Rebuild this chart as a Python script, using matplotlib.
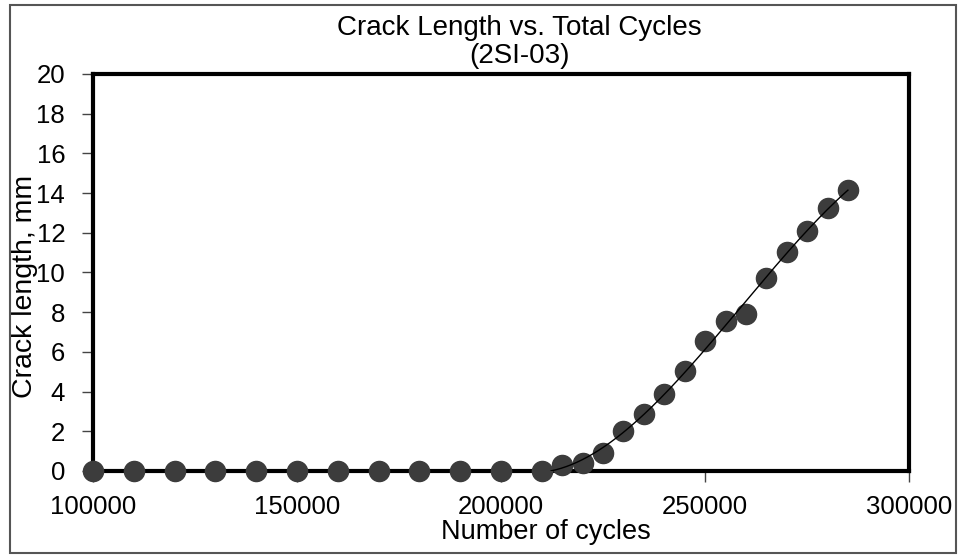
import numpy as np
import matplotlib
matplotlib.use("Agg")
import matplotlib.pyplot as plt
from matplotlib.patches import Rectangle

plt.rcParams['font.family'] = ['Liberation Sans', 'DejaVu Sans']

# Ensayo 2SI-03: longitud de grieta medida contra ciclos totales
ciclos = [100000, 110000, 120000, 130000, 140000, 150000, 160000, 170000,
          180000, 190000, 200000, 210000, 215000, 220000, 225000, 230000,
          235000, 240000, 245000, 250000, 255000, 260000, 265000, 270000,
          275000, 280000, 285000]
grieta = [0, 0, 0, 0, 0, 0, 0, 0, 0, 0, 0, 0,
          0.3, 0.4, 0.9, 2.0, 2.85, 3.9, 5.05, 6.55, 7.55, 7.9, 9.7,
          11.05, 12.1, 13.25, 14.15]
x_ticks = [100000, 150000, 200000, 250000, 300000]
y_ticks = list(range(0, 21, 2))

x = np.array(ciclos, dtype=float)
y = np.array(grieta, dtype=float)

# Linea de tendencia polinomica sobre la zona de crecimiento
crece = x >= 210000
coef = np.polyfit(x[crece] / 1e5, y[crece], 3)
x_fit = np.linspace(x[crece][0], x[crece][-1], 300)
y_fit = np.polyval(coef, x_fit / 1e5)
y_fit = np.where(y_fit < 0, np.nan, y_fit)

fig = plt.figure(figsize=(9.59, 5.60), dpi=100)
ax = fig.add_axes([0.097, 0.159, 0.851, 0.709])

ax.plot(x, y, 'o', color='#3c3c3c', markersize=14.5, clip_on=False, zorder=3)
ax.plot(x_fit, y_fit, '-', color='black', lw=1.0, zorder=4)

ax.set_xlim(100000, 300000)
ax.set_ylim(0, 20)
ax.set_xticks(x_ticks)
ax.set_yticks(y_ticks)
ax.tick_params(axis='both', direction='out', length=8, width=1,
               color='#444444', labelsize=18.5)
ax.tick_params(axis='y', pad=12)
ax.tick_params(axis='x', pad=9)
for s in ax.spines.values():
    s.set_linewidth(3)
    s.set_color('black')

ax.set_xlabel('Number of cycles', fontsize=19.5)
ax.set_ylabel('Crack length, mm', fontsize=20.5)
ax.xaxis.set_label_coords(0.555, -0.12)
ax.yaxis.set_label_coords(-0.067, 0.465)

fig.text(0.542, 0.937, 'Crack Length vs. Total Cycles', ha='center',
         va='baseline', fontsize=20)
fig.text(0.542, 0.887, '(2SI-03)', ha='center', va='baseline', fontsize=20)

# marco exterior del grafico
fig.patches.append(Rectangle((0.010, 0.012), 0.987, 0.979,
                             transform=fig.transFigure, fill=False,
                             edgecolor='#555555', lw=1.5))

fig.savefig('out.png', dpi=100)
